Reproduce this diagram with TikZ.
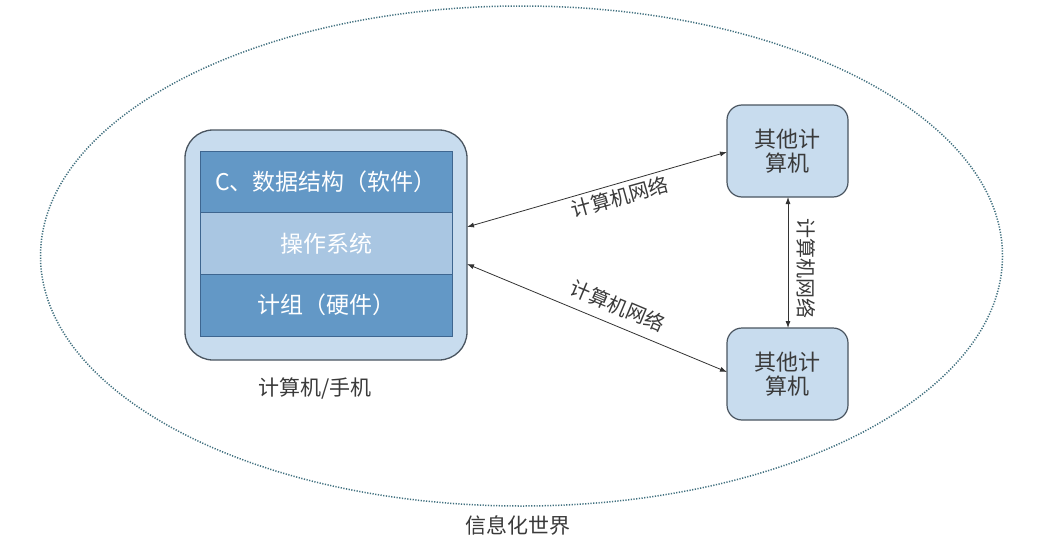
\documentclass[tikz,border=0pt]{standalone}
\usepackage{fontspec}
\newfontfamily\cjk{Noto Sans CJK SC}
\usetikzlibrary{arrows.meta}
\definecolor{boxfill}{HTML}{C8DCEE}
\definecolor{boxline}{HTML}{4A5560}
\definecolor{layerdark}{HTML}{6398C6}
\definecolor{layerlight}{HTML}{A9C6E2}
\definecolor{layerline}{HTML}{3E6690}
\definecolor{ellcol}{HTML}{3F6F7E}
\definecolor{txtgray}{HTML}{3A3A3A}
\tikzset{
  x=1pt,y=-1pt,
  outerbox/.style={draw=boxline,line width=1.3pt,fill=boxfill,rounded corners=28pt},
  otherbox/.style={draw=boxline,line width=1.2pt,fill=boxfill,rounded corners=15pt,
    minimum width=121pt,minimum height=92pt,inner sep=0pt,align=center,
    font=\cjk\fontsize{22}{24}\selectfont,text=txtgray},
  layer/.style={draw=layerline,line width=0.6pt,minimum width=252pt,minimum height=61.7pt,
    inner sep=0pt,text=white,font=\cjk\fontsize{23}{25}\selectfont},
  net/.style={{Latex[length=7pt,width=5pt]}-{Latex[length=7pt,width=5pt]},line width=0.8pt,draw=black!80},
  netlabel/.style={font=\cjk\fontsize{20}{22}\selectfont,text=txtgray,inner sep=2pt},
  captext/.style={font=\cjk\fontsize{21}{24}\selectfont,text=txtgray},
}
\begin{document}
\begin{tikzpicture}
\useasboundingbox (0,0) rectangle (1047,538);
\fill[white] (0,0) rectangle (1047,538);
% ellipse
\draw[ellcol,line width=1.5pt,dash pattern=on 1.2pt off 1.5pt] (521.5,256) ellipse [x radius=481,y radius=250];
% main box
\draw[outerbox] (185,130) rectangle (467,360);
\node[layer,fill=layerdark] (sw) at (326,181.8) {C、数据结构（软件）};
\node[layer,fill=layerlight] (os) at (326,243.5) {操作系统};
\node[layer,fill=layerdark] (hw) at (326,305.2) {计组（硬件）};
\coordinate (mainR1) at (467,227);
\coordinate (mainR2) at (467,264);
\node[captext] (capt) at (315,389) {计算机/手机};
% other computers
\node[otherbox] (o1) at (787.5,151) {其他计\\算机};
\node[otherbox] (o2) at (787.5,374) {其他计\\算机};
% connectors
\coordinate (o1in) at (727,152);
\coordinate (o2in) at (727,372);
\coordinate (v1) at (788,197);
\coordinate (v2) at (788,328);
\draw[net] (mainR1) -- (o1in);
\draw[net] (mainR2) -- (o2in);
\draw[net] (v1) -- (v2);
\node[netlabel,rotate=15.5] (l1) at (620,197) {计算机网络};
\node[netlabel,rotate=-22.8] (l2) at (618,306) {计算机网络};
\node[netlabel,rotate=-90] (l3) at (806,268) {计算机网络};
\node[captext] (world) at (518,525) {信息化世界};
\end{tikzpicture}
\end{document}
